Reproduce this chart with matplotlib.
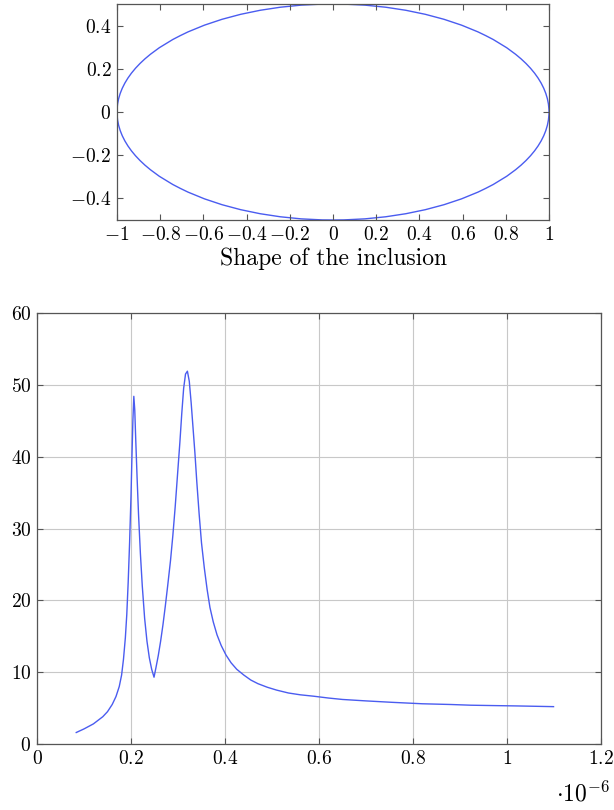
import numpy as np
import matplotlib
matplotlib.use("Agg")
import matplotlib.pyplot as plt
from matplotlib.patches import Ellipse
from matplotlib.ticker import FuncFormatter

plt.rcParams['font.family'] = 'serif'
plt.rcParams['font.serif'] = ['cmr10']
plt.rcParams['mathtext.fontset'] = 'cm'
plt.rcParams['axes.formatter.use_mathtext'] = True

# inclusion shape: semi-axes
semi_a = 1.0
semi_b = 0.5

# response curve (x in units of 1e-6)
x_vals = [0.0835, 0.10, 0.12, 0.14, 0.150, 0.160, 0.168, 0.175, 0.180, 0.184,
          0.188, 0.191, 0.194, 0.197, 0.200, 0.202, 0.204, 0.206, 0.208, 0.210,
          0.213, 0.216, 0.220, 0.224, 0.229, 0.234, 0.239, 0.244, 0.249, 0.253,
          0.258, 0.263, 0.268, 0.273, 0.278, 0.284, 0.289, 0.294, 0.299, 0.304,
          0.308, 0.312, 0.316, 0.320, 0.324, 0.328, 0.332, 0.336, 0.340, 0.345,
          0.350, 0.356, 0.362, 0.368, 0.375, 0.383, 0.392, 0.402, 0.413, 0.425,
          0.440, 0.455, 0.470, 0.490, 0.510, 0.535, 0.560, 0.589, 0.620, 0.650,
          0.700, 0.756, 0.820, 0.880, 0.923, 0.970, 1.020, 1.060, 1.099]
y_vals = [1.6, 2.1, 2.8, 3.8, 4.5, 5.5, 6.6, 8.0, 9.6, 11.8,
          14.8, 18.0, 22.5, 28.0, 34.5, 40.0, 45.0, 48.4, 46.5, 42.5,
          37.0, 32.0, 26.5, 22.0, 17.5, 14.3, 12.0, 10.4, 9.3, 10.6,
          12.3, 14.3, 16.6, 19.2, 22.0, 25.5, 29.0, 33.0, 37.5, 42.0,
          46.0, 49.5, 51.5, 51.9, 50.5, 47.5, 44.0, 40.5, 36.5, 32.0,
          28.0, 24.5, 21.5, 19.0, 17.0, 15.2, 13.7, 12.4, 11.3, 10.4,
          9.6, 8.9, 8.4, 7.9, 7.5, 7.1, 6.85, 6.65, 6.4, 6.2,
          6.0, 5.8, 5.6, 5.5, 5.4, 5.35, 5.3, 5.25, 5.2]

line_color = '#4a5cf0'


def fmt(v, pos):
    return '$%g$' % (round(v, 6) + 0.0)


fig = plt.figure(figsize=(6.14, 8.10), dpi=100)

ax1 = fig.add_axes([117 / 614, 1 - 220 / 810, 432 / 614, 216 / 810])
ax1.add_patch(Ellipse((0, 0), 2 * semi_a, 2 * semi_b, fill=False,
                      edgecolor=line_color, lw=1.0))
ax1.set_xlim(-1, 1)
ax1.set_ylim(-0.5, 0.5)
ax1.set_xticks(np.arange(-1, 1.01, 0.2))
ax1.set_yticks(np.arange(-0.4, 0.41, 0.2))
ax1.xaxis.set_major_formatter(FuncFormatter(fmt))
ax1.yaxis.set_major_formatter(FuncFormatter(fmt))
ax1.set_xlabel("Shape of the inclusion", fontsize=17, labelpad=3)

ax2 = fig.add_axes([37 / 614, 1 - 744 / 810, 564 / 614, 431 / 810])
ax2.plot(x_vals, y_vals, color=line_color, lw=1.0)
ax2.set_xlim(0, 1.2)
ax2.set_ylim(0, 60)
ax2.set_xticks(np.arange(0, 1.21, 0.2))
ax2.set_yticks(np.arange(0, 61, 10))
ax2.xaxis.set_major_formatter(FuncFormatter(fmt))
ax2.yaxis.set_major_formatter(FuncFormatter(fmt))
ax2.grid(True, color='#c8c8c8', lw=0.8)
ax2.set_axisbelow(True)
fig.text(0.905, 0.01, r'$\cdot 10^{-6}$', fontsize=17)

for ax in (ax1, ax2):
    ax.tick_params(direction='in', top=True, right=True, length=4,
                   labelsize=14, color='#555555', pad=4)
    for sp in ax.spines.values():
        sp.set_color('#555555')
        sp.set_linewidth(0.9)

fig.savefig("out.png", dpi=100)
